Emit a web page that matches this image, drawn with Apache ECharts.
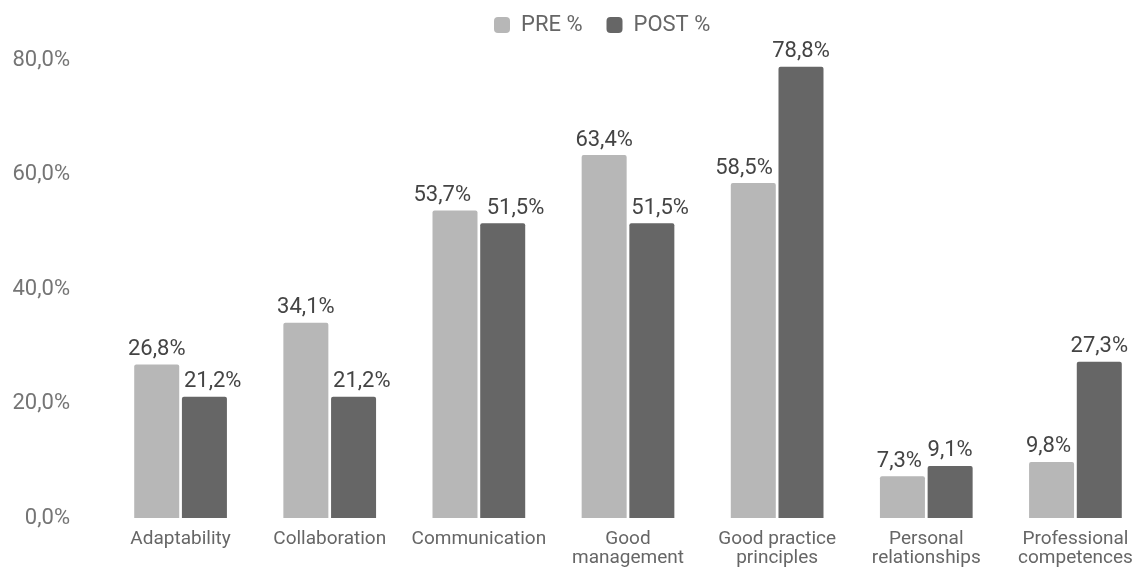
<!DOCTYPE html>
<html>
<head>
<meta charset="utf-8">
<script src="https://cdn.jsdelivr.net/npm/echarts@6/dist/echarts.min.js"></script>
<style>
  html, body { margin: 0; padding: 0; background: #ffffff; overflow: hidden; }
  /* the plot runs slightly past the right edge of the window */
  #chart { width: 1150px; height: 568px; }
</style>
</head>
<body>
<div id="chart"></div>
<script>
// Competence categories (x axis)
const categories = [
  'Adaptability',
  'Collaboration',
  'Communication',
  'Good\nmanagement',
  'Good practice\nprinciples',
  'Personal\nrelationships',
  'Professional\ncompetences'
];

// Share of mentions before and after, in percent
const preValues = [26.8, 34.1, 53.7, 63.4, 58.5, 7.3, 9.8];
const postValues = [21.2, 21.2, 51.5, 51.5, 78.8, 9.1, 27.3];

const seriesNames = ['PRE %', 'POST %'];

// Value axis ticks
const yMin = 0;
const yMax = 80;
const yStep = 20;

const fmt = v => v.toFixed(1).replace('.', ',') + '%';
const font = 'Roboto, "Noto Sans", sans-serif';
const LABEL_SIZE = 22;
const LABEL_DIST = 4;
const BAR_GAP_PX = 3;

// text width helper for the value labels
const measureCtx = document.createElement('canvas').getContext('2d');
measureCtx.font = LABEL_SIZE + 'px Roboto';
const labelWidth = v => measureCtx.measureText(fmt(v)).width;

// Nudge value labels sideways so they clear the neighbouring bar / label
function placeLabel(p) {
  const i = p.dataIndex;
  const s = p.seriesIndex;
  const own = s === 0 ? preValues[i] : postValues[i];
  const other = s === 0 ? postValues[i] : preValues[i];
  const r = p.rect;
  const L = p.labelRect;
  if (!own || !r || !L) return {};
  const base = r.y + r.height;
  const k = r.height / own;
  const otherTop = base - other * k;
  const otherLabelBottom = otherTop - LABEL_DIST;
  const otherLabelTop = otherLabelBottom - L.height;
  const ownCx = r.x + r.width / 2;
  const otherCx = s === 0 ? ownCx + r.width + BAR_GAP_PX : ownCx - r.width - BAR_GAP_PX;
  const gapCentre = s === 0 ? r.x + r.width + BAR_GAP_PX / 2 : r.x - BAR_GAP_PX / 2;
  const vOverlap = L.y < otherLabelBottom && L.y + L.height > otherLabelTop;
  const hOverlap = Math.abs(ownCx - otherCx) < (L.width + labelWidth(other)) / 2;
  let dx = 0;
  if (vOverlap && hOverlap) {
    dx = s === 0 ? (gapCentre - 8) - (L.x + L.width) : (gapCentre + 8) - L.x;
  } else if (otherTop < L.y + L.height) {
    dx = s === 0 ? Math.min(0, (r.x + r.width - 3) - (L.x + L.width))
                 : Math.max(0, (r.x + 2) - L.x);
  }
  return { dx: dx };
}

const chart = echarts.init(document.getElementById('chart'));

const labelStyle = {
  show: true,
  position: 'top',
  distance: LABEL_DIST,
  color: '#444444',
  fontSize: LABEL_SIZE,
  fontFamily: font,
  formatter: p => fmt(p.value)
};

chart.setOption({
  animation: false,
  textStyle: { fontFamily: font },
  legend: {
    top: 9,
    left: 489,
    itemWidth: 16,
    itemHeight: 16,
    itemGap: 24,
    icon: 'roundRect',
    textStyle: { color: '#666666', fontSize: 22, fontFamily: font, padding: [0, 0, 0, 6] },
    data: seriesNames
  },
  grid: { left: 106, right: 0, top: 60, bottom: 50 },
  xAxis: {
    type: 'category',
    data: categories,
    axisLine: { show: false },
    axisTick: { show: false },
    axisLabel: {
      color: '#666666',
      fontSize: 19,
      fontFamily: font,
      margin: 12,
      lineHeight: 19,
      interval: 0
    }
  },
  yAxis: {
    type: 'value',
    min: yMin,
    max: yMax,
    interval: yStep,
    splitLine: { show: false },
    axisLine: { show: false },
    axisTick: { show: false },
    axisLabel: {
      color: '#757575',
      fontSize: 22,
      fontFamily: font,
      margin: 36,
      formatter: v => fmt(v)
    }
  },
  series: [
    {
      name: seriesNames[0],
      type: 'bar',
      data: preValues,
      barWidth: 45,
      barGap: '6%',
      itemStyle: { color: '#b7b7b7', borderRadius: [2, 2, 0, 0] },
      label: labelStyle,
      labelLayout: placeLabel
    },
    {
      name: seriesNames[1],
      type: 'bar',
      data: postValues,
      barWidth: 45,
      itemStyle: { color: '#666666', borderRadius: [2, 2, 0, 0] },
      label: labelStyle,
      labelLayout: placeLabel
    }
  ]
});
</script>
</body>
</html>
